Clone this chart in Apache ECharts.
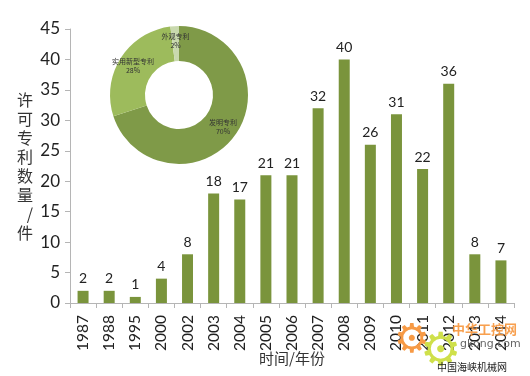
<!DOCTYPE html>
<html><head><meta charset="utf-8">
<style>html,body{margin:0;padding:0;background:#fff}#c{width:530px;height:376px}</style>
<script src="https://cdn.jsdelivr.net/npm/echarts@6/dist/echarts.min.js"></script>
</head><body><div id="c"></div>
<script>
const years = ['1987','1988','1995','2000','2002','2003','2004','2005','2006','2007','2008','2009','2010','2011','2012','2013','2014'];
const counts = [2,2,1,4,8,18,17,21,21,32,40,26,31,22,36,8,7];
const shareNames = ['发明专利','实用新型专利','外观专利'];
const shareValues = [70,28,2];
const shareColors = ['#7f9a48','#9dbb5c','#c9d9ae'];
const latin = 'Lato, "Open Sans", sans-serif';
const cjk = '"Noto Sans CJK SC", sans-serif';
const chart = echarts.init(document.getElementById('c'));
chart.setOption({
  animation:false,
  backgroundColor:'#fff',
  grid:{left:70,right:16,top:29,bottom:73,containLabel:false,outerBoundsMode:'none'},
  xAxis:{type:'category',data:years,
    name:'时间/年份',nameLocation:'middle',nameGap:48,nameMoveOverlap:false,
    nameTextStyle:{fontFamily:cjk,fontSize:15,color:'#333'},
    axisLine:{lineStyle:{color:'#b5b5b5'}},
    axisTick:{show:true,alignWithLabel:false,length:5,lineStyle:{color:'#b5b5b5'}},
    axisLabel:{rotate:90,interval:0,margin:12,fontFamily:latin,fontSize:15.5,color:'#222'}},
  yAxis:{type:'value',min:0,max:45,interval:5,
    name:'许\n可\n专\n利\n数\n量\n/\n件',nameLocation:'middle',nameRotate:0,nameGap:37,nameMoveOverlap:false,
    nameTextStyle:{fontFamily:cjk,fontSize:16,lineHeight:19,color:'#333'},
    splitLine:{show:false},
    axisLine:{show:true,lineStyle:{color:'#b5b5b5'}},
    axisTick:{show:true,length:5,lineStyle:{color:'#b5b5b5'}},
    axisLabel:{margin:10,fontFamily:latin,fontSize:17,color:'#222'}},
  series:[
    {type:'bar',data:counts,barWidth:11,itemStyle:{color:'#7a943c'},
     label:{show:true,position:'top',distance:5,fontFamily:latin,fontSize:14,color:'#222'}},
    {type:'pie',center:[179,95],radius:[34,69],startAngle:90,clockwise:true,z:5,
     data:shareNames.map((n,i)=>({name:n,value:shareValues[i],itemStyle:{color:shareColors[i]}})),
     label:{show:true,position:'inside',formatter:p=>p.name+'\n'+p.value+'%',fontFamily:cjk,fontSize:7,lineHeight:9,color:'#333'},
     labelLine:{show:false},emphasis:{disabled:true}}
  ],
  graphic:[
    {type:'text',z:100,left:394,top:322,style:{text:'⚙',font:'40px "DejaVu Sans"',fill:'#f79a45'}},
    {type:'text',z:100,left:420,top:330,style:{text:'⚙',font:'46px "DejaVu Sans"',fill:'#cfe04a'}},
    {type:'text',z:100,left:452,top:323,style:{text:'中华工控网',font:'bold 13px "Noto Sans CJK SC"',fill:'rgba(247,150,60,0.9)'}},
    {type:'text',z:100,left:460,top:339,style:{text:'gkong.com',font:'11px "DejaVu Sans"',fill:'#666'}},
    {type:'text',z:100,left:437,top:362,style:{text:'中国海峡机械网',font:'10px "Noto Sans CJK SC"',fill:'#222'}}
  ]
});
</script></body></html>
